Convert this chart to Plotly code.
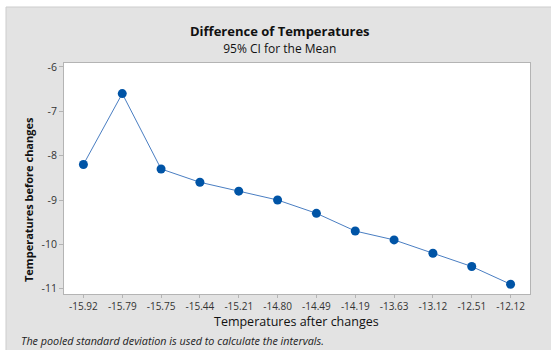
import plotly.graph_objects as go

x_labels = ["-15.92", "-15.79", "-15.75", "-15.44", "-15.21", "-14.80",
            "-14.49", "-14.19", "-13.63", "-13.12", "-12.51", "-12.12"]
y_values = [-8.2, -6.6, -8.3, -8.6, -8.8, -9.0, -9.3, -9.7, -9.9, -10.2, -10.5, -10.9]
y_ticks = [-6, -7, -8, -9, -10, -11]
y_tick_text = ["-6", "-7", "-8", "-9", "-10", "-11"]

W, H = 551, 350
L, R, T, B = 64, 530, 63, 294

def px(x):
    return (x - L) / (R - L)

def py(y):
    return (B - y) / (B - T)

FONT = "Open Sans"

fig = go.Figure()
fig.add_trace(go.Scatter(
    x=list(range(len(x_labels))), y=y_values, mode="lines+markers",
    line=dict(color="#4A7EC2", width=1),
    marker=dict(color="#0054A6", size=9),
    hoverinfo="skip", showlegend=False,
))

fig.update_layout(
    width=W, height=H,
    margin=dict(l=L, r=W - R, t=T, b=H - B, pad=0),
    paper_bgcolor="white", plot_bgcolor="white",
    font=dict(family=FONT, color="#222"),
    xaxis=dict(
        range=[-0.5, len(x_labels) - 0.5], tickmode="array",
        tickvals=list(range(len(x_labels))), ticktext=x_labels,
        showgrid=False, zeroline=False, showline=True, mirror=True,
        linecolor="#B4B4B4", linewidth=1, ticks="outside", ticklen=3,
        tickcolor="#B4B4B4", tickfont=dict(size=10, color="#333"),
        automargin=False,
    ),
    yaxis=dict(
        range=[-11.12, -5.91], tickmode="array", tickvals=y_ticks,
        ticktext=y_tick_text,
        showgrid=False, zeroline=False, showline=True, mirror=True,
        linecolor="#B4B4B4", linewidth=1, ticks="outside", ticklen=4,
        tickcolor="#B4B4B4", tickfont=dict(size=10.5, color="#333"),
        automargin=False,
    ),
    shapes=[
        dict(type="rect", xref="paper", yref="paper", layer="below",
             x0=px(6), x1=px(W + 2), y0=py(H + 2), y1=py(7),
             fillcolor="#E3E3E3", line=dict(color="#CDCDCD", width=1)),
        dict(type="rect", xref="paper", yref="paper", layer="below",
             x0=0, x1=1, y0=0, y1=1,
             fillcolor="white", line=dict(width=0)),
    ],
    annotations=[
        dict(text="<b>Difference of Temperatures</b><br>"
                  "<span style='font-size:12px'>95% CI for the Mean</span>",
             xref="paper", yref="paper",
             x=px(280), y=py(39.5), showarrow=False, xanchor="center", yanchor="middle",
             align="center", font=dict(size=13, color="#111", family=FONT)),
        dict(text="Temperatures after changes", xref="paper", yref="paper",
             x=px(296), y=py(321), showarrow=False, xanchor="center", yanchor="middle",
             font=dict(size=12.5, color="#111", family=FONT)),
        dict(text="<b>Temperatures before changes</b>", xref="paper", yref="paper",
             x=px(28), y=py(200), showarrow=False, xanchor="center", yanchor="middle",
             textangle=-90, font=dict(size=11, color="#111", family=FONT)),
        dict(text="<i>The pooled standard deviation is used to calculate the intervals.</i>",
             xref="paper", yref="paper", x=px(19), y=py(340.5), showarrow=False,
             xanchor="left", yanchor="middle",
             font=dict(size=10.8, color="#222", family=FONT)),
    ],
)

fig.write_html("out.html", config={"displayModeBar": False},
               post_script="document.body.style.margin='0';document.body.style.padding='0';")
